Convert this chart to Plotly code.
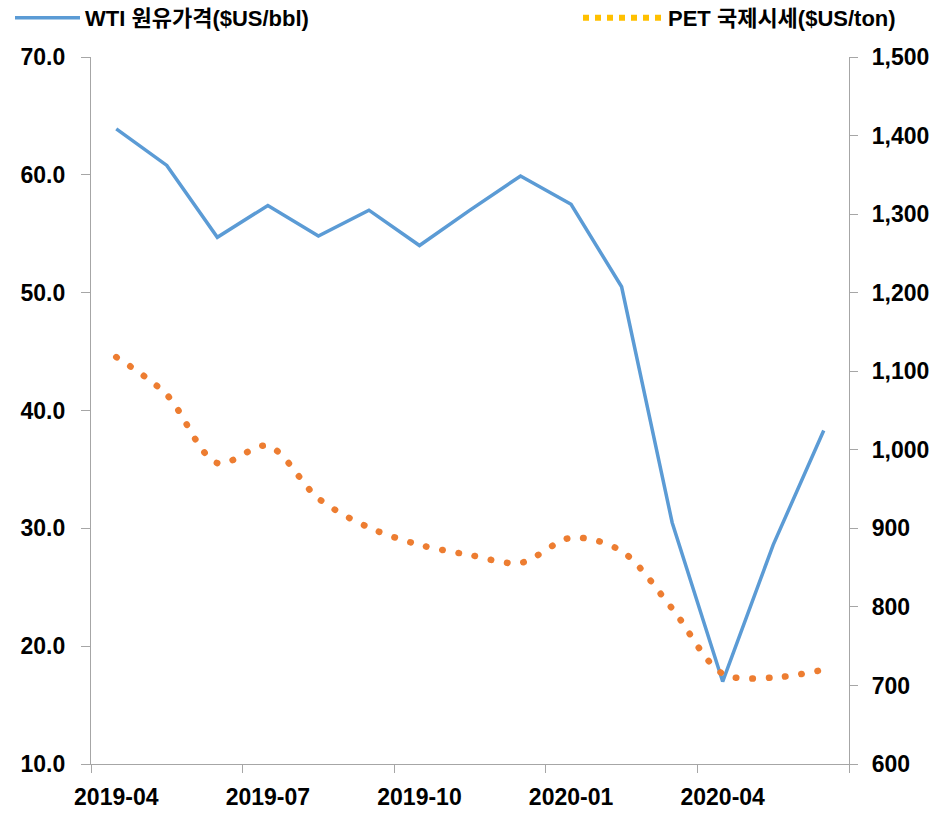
import plotly.graph_objects as go

months = ["2019-04", "2019-05", "2019-06", "2019-07", "2019-08", "2019-09", "2019-10",
          "2019-11", "2019-12", "2020-01", "2020-02", "2020-03", "2020-04", "2020-05", "2020-06"]
wti = [63.9, 60.8, 54.7, 57.4, 54.8, 57.0, 54.0, 57.0, 59.9, 57.5, 50.5, 30.5, 17.0, 28.6, 38.3]
pet = [1118, 1070, 983, 1005, 938, 901, 879, 866, 856, 888, 871, 798, 715, 710, 720]
wti_name = "WTI 원유가격($US/bbl)"
pet_name = "PET 국제시세($US/ton)"

x = list(range(len(months)))
FONT = "Liberation Sans, Arial, Noto Sans CJK KR, sans-serif"
AX = "#a6a6a6"

fig = go.Figure()
fig.add_trace(go.Scatter(x=x, y=wti, name=wti_name, mode="lines", legend="legend",
                         line=dict(color="#5B9BD5", width=3.5), yaxis="y"))
fig.add_trace(go.Scatter(x=x, y=pet, name=pet_name, mode="lines", showlegend=False,
                         line=dict(color="#ED7D31", width=6.5, dash="0.5px,16px",
                                   shape="spline", smoothing=0.9), yaxis="y2"))
# legend entry for PET (gold square dots, as in the original legend)
fig.add_trace(go.Scatter(x=[None], y=[None], name=pet_name, mode="lines", legend="legend2",
                         line=dict(color="#FFC000", width=6, dash="6px,6px"), yaxis="y2"))

leg_common = dict(orientation="h", xref="container", xanchor="left",
                  yref="container", yanchor="middle", y=(813 - 18) / 813,
                  font=dict(size=22, weight="bold", family=FONT),
                  bgcolor="rgba(0,0,0,0)")

fig.update_layout(
    width=948, height=813,
    margin=dict(l=91, r=99, t=56.5, b=48.5, autoexpand=False),
    paper_bgcolor="white", plot_bgcolor="white",
    font=dict(family=FONT, color="black", size=24, weight="bold"),
    showlegend=True,
    legend=dict(x=10 / 948, itemwidth=65, **leg_common),
    legend2=dict(x=578 / 948, itemwidth=80, **leg_common),
    xaxis=dict(range=[-0.5, 14.5], tickmode="array", tickvals=x[::3], ticktext=months[::3],
               ticks="", showline=True, linecolor=AX, linewidth=1.3, showgrid=False,
               zeroline=False, ticklabelstandoff=12,
               tickfont=dict(size=23, weight="bold"),
               minor=dict(ticks="outside", tickmode="linear", tick0=-0.5, dtick=3,
                          ticklen=8, tickcolor=AX, tickwidth=1.3, showgrid=False)),
    yaxis=dict(range=[10, 70], dtick=10, tickformat=".1f", ticks="outside", ticklen=9,
               tickcolor=AX, tickwidth=1.3, showline=True, linecolor=AX, linewidth=1.3,
               showgrid=False, zeroline=False, ticklabelstandoff=11,
               tickfont=dict(size=23, weight="bold")),
    yaxis2=dict(range=[600, 1500], dtick=100, tickformat=",d", overlaying="y", side="right",
                ticks="outside", ticklen=8, tickcolor=AX, tickwidth=1.3, showline=True,
                linecolor=AX, linewidth=1.3, showgrid=False, zeroline=False,
                ticklabelstandoff=9, tickfont=dict(size=23, weight="bold")),
)

post = """
document.body.style.margin = '0';
document.querySelectorAll('.scatterlayer path.js-line').forEach(function(p){
  var d = p.style.strokeDasharray;
  if (d && d !== 'none' && d.indexOf('0.5px') === 0) { p.style.strokeLinecap = 'round'; }
});
"""
fig.write_html("out.html", post_script=post, config={"displayModeBar": False})
